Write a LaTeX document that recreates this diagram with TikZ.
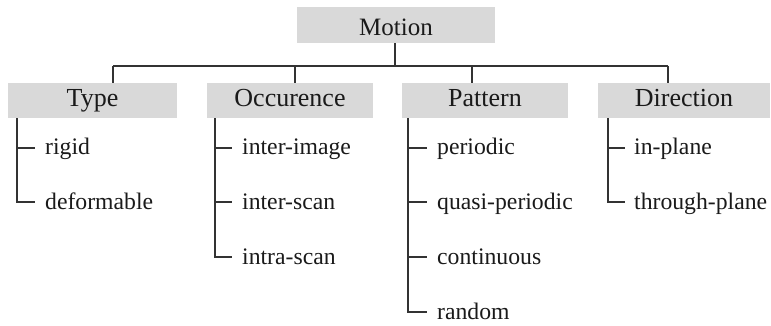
\documentclass[tikz,border=0pt]{standalone}
\usepackage{fontspec}
\setmainfont{Liberation Serif}
\definecolor{boxgray}{HTML}{D9D9D9}
\definecolor{linegray}{HTML}{333333}
\definecolor{txt}{HTML}{1A1A1A}
\tikzset{
  hdr/.style={fill=boxgray, inner sep=0pt, minimum height=35pt, text=txt,
    font=\fontsize{26}{30}\selectfont, text height=18pt, text depth=5pt},
  leaf/.style={anchor=west, inner sep=0pt, text=txt,
    font=\fontsize{23.7}{28}\selectfont, text height=18pt, text depth=4pt},
  conn/.style={draw=linegray, line width=1.3pt},
}
\begin{document}
\begin{tikzpicture}[x=1pt,y=-1pt]
\useasboundingbox (0,0) rectangle (771,326);
% headers
\node[hdr, minimum width=198pt, minimum height=36pt, text height=22pt, text depth=0pt,
  font=\fontsize{25}{30}\selectfont] (motion) at (396,25) {Motion};
\node[hdr, minimum width=169pt] (type) at (92.5,100.5) {Type};
\node[hdr, minimum width=166pt] (occ) at (290,100.5) {Occurence};
\node[hdr, minimum width=166pt] (pat) at (485,100.5) {Pattern};
\node[hdr, minimum width=172pt] (dir) at (684,100.5) {Direction};
% bar
\coordinate (bar) at (395,66);
\coordinate (sT) at (113,66);
\coordinate (sO) at (295,66);
\coordinate (sP) at (472,66);
\coordinate (sD) at (668,66);
\draw[conn] (motion.south -| bar) -- (bar);
\draw[conn] (sT) -- (sD);
\draw[conn] (sT) -- (sT |- type.north);
\draw[conn] (sO) -- (sO |- occ.north);
\draw[conn] (sP) -- (sP |- pat.north);
\draw[conn] (sD) -- (sD |- dir.north);
% leaves
\node[leaf] (rigid) at (45,148) {rigid};
\node[leaf] (deform) at (45,202) {deformable};
\node[leaf] (interimg) at (242,148) {inter-image};
\node[leaf] (interscan) at (242,202) {inter-scan};
\node[leaf] (intrascan) at (242,257) {intra-scan};
\node[leaf] (periodic) at (437,148) {periodic};
\node[leaf] (quasi) at (437,202) {quasi-periodic};
\node[leaf] (cont) at (437,257) {continuous};
\node[leaf] (random) at (437,312) {random};
\node[leaf] (inplane) at (634,148) {in-plane};
\node[leaf] (through) at (634,202) {through-plane};
% leaf connectors
\draw[conn] ([xshift=-28pt]type.south -| rigid.west) |- ([xshift=-10pt]deform.west);
\draw[conn] ([xshift=-28pt]rigid.west) -- ([xshift=-10pt]rigid.west);
\draw[conn] ([xshift=-27pt]occ.south -| interimg.west) |- ([xshift=-10pt]intrascan.west);
\draw[conn] ([xshift=-27pt]interimg.west) -- ([xshift=-10pt]interimg.west);
\draw[conn] ([xshift=-27pt]interscan.west) -- ([xshift=-10pt]interscan.west);
\draw[conn] ([xshift=-29pt]pat.south -| periodic.west) |- ([xshift=-10pt]random.west);
\draw[conn] ([xshift=-29pt]periodic.west) -- ([xshift=-10pt]periodic.west);
\draw[conn] ([xshift=-29pt]quasi.west) -- ([xshift=-10pt]quasi.west);
\draw[conn] ([xshift=-29pt]cont.west) -- ([xshift=-10pt]cont.west);
\draw[conn] ([xshift=-26pt]dir.south -| inplane.west) |- ([xshift=-9pt]through.west);
\draw[conn] ([xshift=-26pt]inplane.west) -- ([xshift=-9pt]inplane.west);
\end{tikzpicture}
\end{document}
